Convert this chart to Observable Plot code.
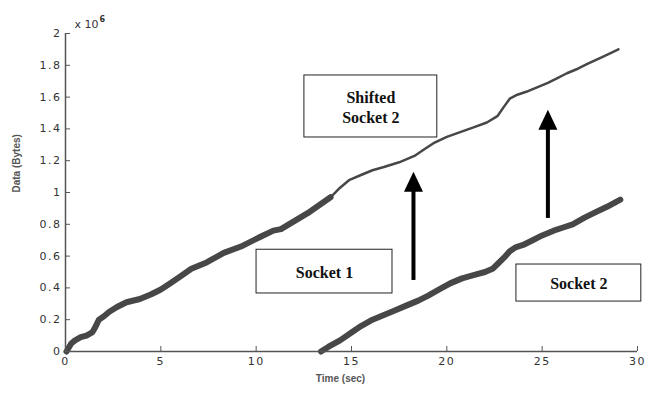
<!DOCTYPE html>
<html><head><meta charset="utf-8">
<script src="https://cdn.jsdelivr.net/npm/d3@7"></script>
<script src="https://cdn.jsdelivr.net/npm/@observablehq/plot@0.6"></script>
<style>body{margin:0;background:#fff}#chart{width:653px;height:394px}</style>
</head><body><div id="chart"></div>
<script>
// Time (sec) and Data (x 10^6 Bytes)
const socket1T = [0.05,0.3,0.5,0.8,1.1,1.4,1.55,1.75,2.0,2.3,2.7,3.2,3.9,4.5,5.0,5.5,6.0,6.6,7.4,8.3,9.2,10.2,10.9,11.3,12.0,12.7,13.3,13.9];
const socket1V = [0.0,0.05,0.07,0.09,0.10,0.12,0.15,0.20,0.22,0.25,0.28,0.31,0.33,0.36,0.39,0.43,0.47,0.52,0.56,0.62,0.66,0.72,0.76,0.77,0.82,0.87,0.92,0.97];
const socket2T = [13.4,13.8,14.4,15.0,15.5,16.1,16.7,17.3,17.9,18.5,19.0,19.6,20.2,20.8,21.4,22.0,22.4,22.7,23.0,23.3,23.6,24.0,24.5,25.0,25.6,26.1,26.6,27.2,27.7,28.4,29.1];
const socket2V = [0.0,0.03,0.07,0.12,0.16,0.20,0.23,0.26,0.29,0.32,0.35,0.39,0.43,0.46,0.48,0.50,0.52,0.555,0.59,0.63,0.655,0.67,0.70,0.73,0.76,0.78,0.80,0.84,0.87,0.91,0.955];
const shiftedT = [13.9,14.4,14.9,15.5,16.1,16.7,17.5,17.9,18.3,18.8,19.3,20.0,20.7,21.4,22.1,22.65,23.0,23.3,23.7,24.2,24.7,25.3,25.8,26.3,26.9,27.4,28.2,29.0];
const shiftedV = [0.97,1.03,1.08,1.11,1.14,1.16,1.19,1.21,1.23,1.27,1.31,1.35,1.38,1.41,1.44,1.48,1.54,1.59,1.615,1.635,1.66,1.69,1.72,1.75,1.78,1.81,1.855,1.90];

const xTicks = [0,5,10,15,20,25,30];
const yTicks = [0,0.2,0.4,0.6,0.8,1,1.2,1.4,1.6,1.8,2];
const yTickLabels = ["0","0.2","0.4","0.6","0.8","1","1.2","1.4","1.6","1.8","2"];

// annotation boxes (data coordinates)
const boxLabels = ["Shifted\nSocket 2", "Socket 1", "Socket 2"];
const boxX1 = [12.53, 10.02, 23.65];
const boxX2 = [19.50, 17.15, 30.20];
const boxY1 = [1.346, 0.365, 0.314];
const boxY2 = [1.736, 0.640, 0.547];

// arrows (data coordinates)
const arrowX = [18.25, 25.3];
const arrowFrom = [0.45, 0.84];
const arrowTo = [1.13, 1.52];

const toRows = (T, V) => T.map((t, i) => ({t, v: V[i]}));
const s1 = toRows(socket1T, socket1V);
const s2 = toRows(socket2T, socket2V);
const sh = toRows(shiftedT, shiftedV);
const boxes = boxLabels.map((label, i) => ({label, x1: boxX1[i], x2: boxX2[i], y1: boxY1[i], y2: boxY2[i]}));
const arrows = arrowX.map((x, i) => ({x, from: arrowFrom[i], to: arrowTo[i]}));

const headSymbol = {draw(ctx) { ctx.moveTo(0, 0); ctx.lineTo(9.5, 20); ctx.lineTo(-9.5, 20); ctx.closePath(); }};
const headH = 18 / ((394 - 33 - 43) / 2); // head length in data units

const lineColor = "#474747";
const axisColor = "#555";
const tickFont = "'DejaVu Sans', sans-serif";

const chart = Plot.plot({
  width: 653, height: 394,
  marginLeft: 65, marginRight: 16, marginTop: 33, marginBottom: 43,
  x: {domain: [0, 30], label: null},
  y: {domain: [0, 2], label: null},
  style: {fontFamily: "'Liberation Sans', Arial, sans-serif", fontSize: "11px", color: "#333", background: "#fff", overflow: "visible"},
  marks: [
    Plot.line(s1, {x: "t", y: "v", stroke: lineColor, strokeWidth: 6, strokeLinejoin: "round", strokeLinecap: "round"}),
    Plot.line(s2, {x: "t", y: "v", stroke: lineColor, strokeWidth: 6, strokeLinejoin: "round", strokeLinecap: "round"}),
    Plot.line(sh, {x: "t", y: "v", stroke: lineColor, strokeWidth: 2.5, strokeLinejoin: "round"}),
    Plot.ruleX([0], {y1: 0, y2: 2, stroke: axisColor, strokeWidth: 1.5}),
    Plot.ruleY([0], {x1: 0, x2: 30, stroke: axisColor, strokeWidth: 1.5}),
    Plot.axisX({ticks: xTicks, tickSize: -5, tickFormat: () => "", stroke: axisColor, label: null}),
    Plot.axisX({ticks: xTicks, tickSize: 0, tickPadding: 6, fill: "#333", fontSize: 11, fontFamily: tickFont, label: null,
      render(index, scales, values, dims, context, next) { const g = next(index, scales, values, dims, context); g.setAttribute("letter-spacing", "1.5"); return g; }}),
    Plot.axisY({ticks: yTicks, tickSize: -5, tickFormat: () => "", stroke: axisColor, label: null}),
    Plot.axisY({ticks: yTicks, tickSize: 0, tickPadding: 4, fill: "#333", fontSize: 11, fontFamily: tickFont, tickFormat: (d, i) => yTickLabels[i], label: null,
      render(index, scales, values, dims, context, next) { const g = next(index, scales, values, dims, context); g.setAttribute("letter-spacing", "1.5"); return g; }}),
    Plot.rect(boxes, {x1: "x1", x2: "x2", y1: "y1", y2: "y2", fill: "white", stroke: "#222", strokeWidth: 1}),
    Plot.text(boxes, {x: d => (d.x1 + d.x2) / 2, y: d => (d.y1 + d.y2) / 2, text: "label", fontFamily: "'Liberation Serif', 'Times New Roman', serif", fontWeight: "bold", fontSize: 16, lineHeight: 1.25, fill: "#111"}),
    Plot.link(arrows, {x1: "x", x2: "x", y1: "from", y2: d => d.to - headH * 0.8, stroke: "black", strokeWidth: 4}),
    Plot.dot(arrows, {x: "x", y: "to", symbol: headSymbol, r: 5, fill: "black", stroke: "none"}),
    Plot.text(["Data (Bytes)"], {frameAnchor: "left", dx: -49, rotate: -90, fontWeight: "bold", fontSize: 10, fill: "#555"}),
    Plot.text(["Time (sec)"], {frameAnchor: "bottom", dx: -11, dy: 30, fontWeight: "bold", fontSize: 10, fill: "#555"}),
    Plot.text(["x 10"], {frameAnchor: "top-left", dx: 9, dy: -13, textAnchor: "start", fontSize: 11, fontFamily: tickFont, fill: "#333"}),
    Plot.text(["6"], {frameAnchor: "top-left", dx: 34, dy: -17, textAnchor: "start", fontSize: 8, fontWeight: "bold", fontFamily: tickFont, fill: "#333"})
  ]
});
document.getElementById("chart").append(chart);
</script>
</body></html>
